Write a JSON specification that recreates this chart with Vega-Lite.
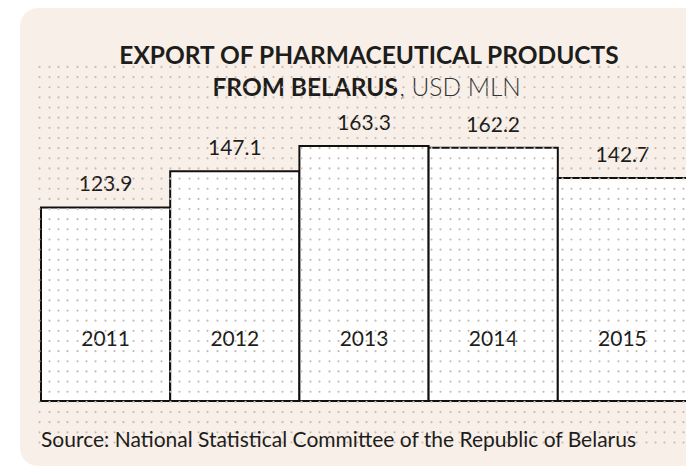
{
  "$schema": "https://vega.github.io/schema/vega-lite/v6.json",
  "autosize": {"type": "none"},
  "padding": {"left": 20, "top": 8, "right": -20, "bottom": 6},
  "width": 686,
  "height": 458,
  "background": "white",
  "config": {
    "view": {"fill": "#f8efe9", "cornerRadius": 18, "stroke": null},
    "text": {"font": "Lato"}
  },
  "title": {
    "text": "EXPORT OF PHARMACEUTICAL PRODUCTS",
    "anchor": "middle",
    "frame": "group",
    "dx": 6,
    "offset": -61,
    "font": "Lato",
    "fontSize": 24.5,
    "fontWeight": "bold",
    "color": "#1d1d1b"
  },
  "data": {
    "values": [
      {"year": "2011", "value": 123.9},
      {"year": "2012", "value": 147.1},
      {"year": "2013", "value": 163.3},
      {"year": "2014", "value": 162.2},
      {"year": "2015", "value": 142.7}
    ]
  },
  "resolve": {"scale": {"x": "independent"}, "axis": {"x": "independent"}},
  "layer": [
    {
      "mark": {"type": "rule", "opacity": 0},
      "encoding": {
        "x": {
          "datum": 0,
          "type": "quantitative",
          "scale": {"domain": [0, 69], "range": [19.3, 663.07], "nice": false, "zero": false},
          "axis": {
            "orient": "bottom",
            "values": [0,1,2,3,4,5,6,7,8,9,10,11,12,13,14,15,16,17,18,19,20,21,22,23,24,25,26,27,28,29,30,31,32,33,34,35,36,37,38,39,40,41,42,43,44,45,46,47,48,49,50,51,52,53,54,55,56,57,58,59,60,61,62,63,64,65,66,67,68,69],
            "labels": false,
            "ticks": false,
            "domain": false,
            "grid": true,
            "gridColor": "#c6bcb5",
            "gridWidth": 2.2,
            "gridCap": "round",
            "gridOpacity": 1,
            "gridDash": [0,10.15,0,10.15,0,10.15,0,10.15,0,10.15,0,10.15,0,10.15,0,10.15,0,10.15,0,10.15,0,10.15,0,10.15,0,10.15,0,10.15,0,10.15,0,10.15,0,10.15,0,10.15,0,10.15,0,10.15,0,10.15,0,10.15,0,10.15,0,10.15,0,10.15,0,10.15,0,10.15,0,10.15,0,10.15,0,10.15,0,10.15,0,10.15,0,10.15,0,10.15,0,10.15,0,10.15,0,10.15,0,600],
            "gridDashOffset": -24,
            "zindex": 1,
            "title": "Source: National Statistical Committee of the Republic of Belarus",
            "titleFont": "Lato",
            "titleFontSize": 21,
            "titleFontWeight": "normal",
            "titleColor": "#1d1d1b",
            "titleAlign": "left",
            "titleAnchor": "start",
            "titleBaseline": "alphabetic",
            "titleX": 20.5,
            "titleY": -19.5
          }
        }
      }
    },
    {
      "mark": {"type": "bar", "fill": "white", "stroke": "#111111", "strokeWidth": 2},
      "encoding": {
        "x": {
          "field": "year",
          "type": "nominal",
          "scale": {"range": [21, 667], "paddingInner": 0, "paddingOuter": 0},
          "axis": {
            "orient": "top",
            "labels": false,
            "ticks": false,
            "domain": false,
            "grid": false,
            "title": "FROM BELARUS",
            "titleFont": "Lato",
            "titleFontSize": 24.5,
            "titleFontWeight": "bold",
            "titleColor": "#1d1d1b",
            "titleAlign": "left",
            "titleAnchor": "start",
            "titleBaseline": "alphabetic",
            "titleX": 192,
            "titleY": 87.5
          }
        },
        "y": {
          "field": "value",
          "type": "quantitative",
          "scale": {"domain": [-41.61, 251.6], "nice": false, "zero": false},
          "axis": {
            "orient": "left",
            "labels": false,
            "ticks": false,
            "domain": false,
            "grid": false,
            "title": ", USD MLN",
            "titleFont": "Lato",
            "titleFontSize": 24.5,
            "titleFontWeight": 300,
            "titleColor": "#333333",
            "titleAngle": 0,
            "titleAlign": "left",
            "titleBaseline": "alphabetic",
            "titleX": 379,
            "titleY": 87.5
          }
        }
      }
    },
    {
      "mark": {"type": "text", "baseline": "alphabetic", "dy": -16, "fontSize": 21, "color": "#1d1d1b"},
      "encoding": {
        "x": {"field": "year", "type": "nominal", "scale": {"range": [21, 667], "paddingInner": 0, "paddingOuter": 0}, "axis": null},
        "y": {"field": "value", "type": "quantitative", "scale": {"domain": [-41.61, 251.6], "nice": false, "zero": false}},
        "text": {"field": "value", "type": "quantitative", "format": ".1f"}
      }
    },
    {
      "mark": {"type": "text", "baseline": "alphabetic", "dy": -55, "fontSize": 21, "color": "#1d1d1b"},
      "encoding": {
        "x": {"field": "year", "type": "nominal", "scale": {"range": [21, 667], "paddingInner": 0, "paddingOuter": 0}, "axis": null},
        "y": {"datum": 0, "type": "quantitative", "scale": {"domain": [-41.61, 251.6], "nice": false, "zero": false}},
        "text": {"field": "year", "type": "nominal"}
      }
    }
  ]
}
